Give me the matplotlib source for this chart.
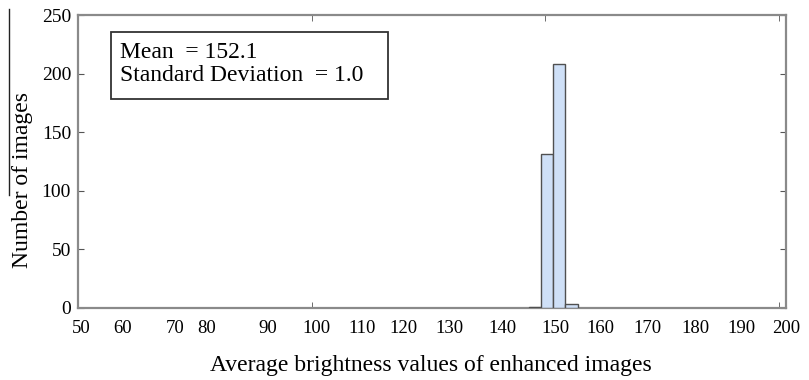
import numpy as np
import matplotlib.pyplot as plt
from matplotlib.lines import Line2D
from matplotlib.patches import Rectangle

# histogram bins
bin_edges = [146.5, 149.1, 151.7, 154.3, 156.9]
counts = [1, 131, 208, 3]

# tick labels as printed in the figure (their positions are slightly off in the original)
xlabel_vals = ["50", "60", "70", "80", "90", "100", "110", "120", "130",
               "140", "150", "160", "170", "180", "190", "200"]
xlabel_pos = [50.8, 59.5, 70.8, 77.5, 90.5, 101.1, 110.8, 119.7, 129.4,
              140.9, 152.1, 161.7, 171.8, 182.2, 192.0, 201.5]
yticks = [0, 50, 100, 150, 200, 250]
stats_text = "Mean  = 152.1\nStandard Deviation  = 1.0"

plt.rcParams['font.family'] = ['Liberation Serif', 'DejaVu Serif']

fig = plt.figure(figsize=(8.09, 3.80), dpi=100)
ax = fig.add_axes([0.0964, 0.1895, 0.8752, 0.771])

edges = np.array(bin_edges)
ax.bar(edges[:-1], counts, width=np.diff(edges), align='edge',
       color='#cfe0f7', edgecolor='#505050', linewidth=1.0, zorder=3)

ax.set_xlim(50, 200)
ax.set_ylim(0, 250)

# labels without marks, marks at 50-step minor ticks
ax.set_xticks(xlabel_pos)
ax.set_xticklabels(xlabel_vals)
ax.tick_params(axis='x', which='major', length=0, pad=9, labelsize=13.5)
ax.set_xticks([50, 100, 150, 200], minor=True)
ax.tick_params(axis='x', which='minor', direction='in', length=4,
               top=True, bottom=True, color='#555555')

ax.set_yticks(yticks)
ax.tick_params(axis='y', direction='in', length=4, right=True, left=True,
               labelsize=14, pad=5, color='#555555')

for s in ax.spines.values():
    s.set_color('#8a8a8a')
    s.set_linewidth(1.6)

fig.text(431 / 809, 1 - 366 / 380, "Average brightness values of enhanced images",
         fontsize=17, ha='center', va='center')
fig.text(23 / 809, 1 - 180 / 380, "Number of images", fontsize=17,
         rotation=90, ha='center', va='center')

# stats box
ax.add_patch(Rectangle((110.7 / 809, 1 - 99 / 380), (388 - 110.7) / 809, (99 - 32) / 380,
                       transform=fig.transFigure, fill=False, edgecolor='#333333',
                       linewidth=1.3, zorder=5))
fig.text(120 / 809, 1 - 64 / 380, stats_text, fontsize=17, va='center', ha='left',
         linespacing=1.1)

# stray vertical line at the left edge of the original
fig.add_artist(Line2D([9 / 809, 9 / 809], [1 - 9 / 380, 1 - 195 / 380],
                      transform=fig.transFigure, color='#222222', linewidth=1.0))

fig.savefig("out.png", dpi=100)
